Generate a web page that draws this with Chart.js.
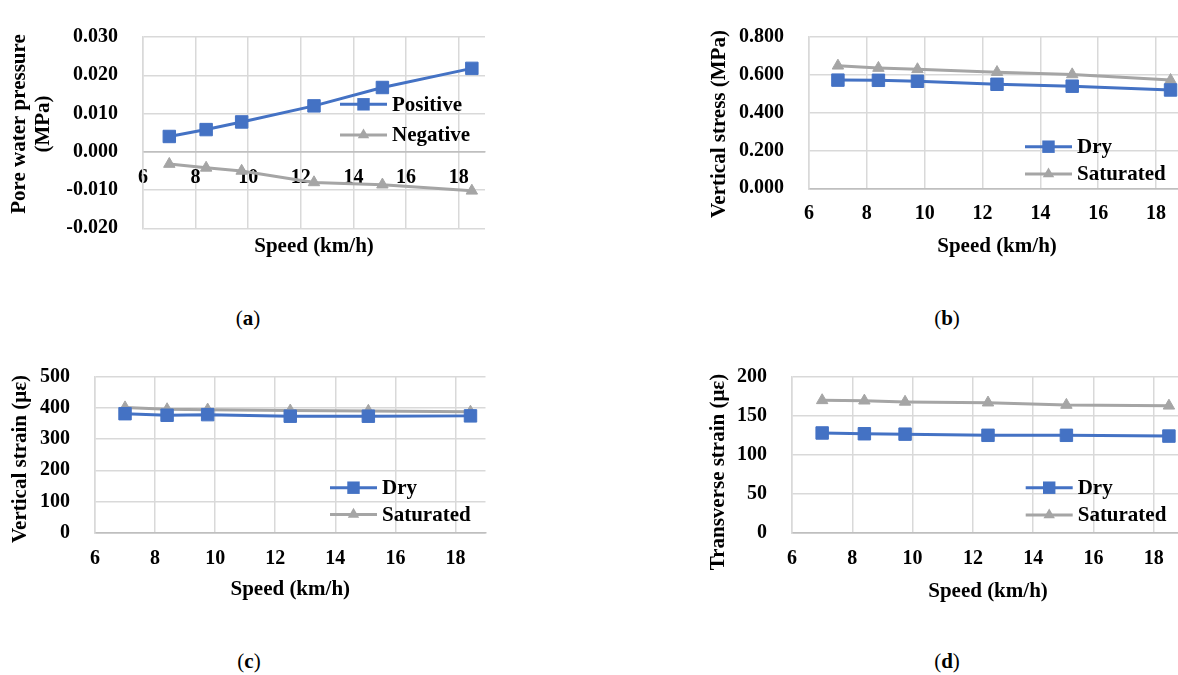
<!DOCTYPE html>
<html>
<head>
<meta charset="utf-8">
<title>Speed effects</title>
<script src="https://cdn.jsdelivr.net/npm/chart.js"></script>
<style>
  html, body { margin: 0; padding: 0; background: #fff; overflow: hidden; }
  body { position: relative; width: 1178px; height: 675px; }
  canvas { position: absolute; }
  .cap { position: absolute; font-family: "Liberation Serif", serif; font-size: 21px; color: #000; transform: translate(-50%, -50%); }
  .cap b { font-weight: bold; }
</style>
</head>
<body>
<canvas id="pore" width="560" height="290" style="left:0;top:0"></canvas>
<canvas id="stress" width="620" height="290" style="left:589px;top:0"></canvas>
<canvas id="vstrain" width="560" height="290" style="left:0;top:340px"></canvas>
<canvas id="tstrain" width="620" height="290" style="left:589px;top:340px"></canvas>
<div class="cap" style="left:248px;top:318px">(<b>a</b>)</div>
<div class="cap" style="left:947px;top:318px">(<b>b</b>)</div>
<div class="cap" style="left:249px;top:661px">(<b>c</b>)</div>
<div class="cap" style="left:947px;top:661px">(<b>d</b>)</div>
<script>
// speeds (km/h) shared by all four panels
const speeds = [7, 8.4, 9.75, 12.5, 15.1, 18.5];
const speedTicks = [6, 8, 10, 12, 14, 16, 18];

const poreTicks = [-0.02, -0.01, 0, 0.01, 0.02, 0.03];
const porePositive = [0.004, 0.0058, 0.0078, 0.012, 0.0168, 0.0218];
const poreNegative = [-0.0032, -0.0042, -0.005, -0.008, -0.0086, -0.0102];

const stressTicks = [0, 0.2, 0.4, 0.6, 0.8];
const stressDry = [0.572, 0.571, 0.566, 0.55, 0.54, 0.52];
const stressSat = [0.648, 0.636, 0.629, 0.614, 0.602, 0.572];

const vStrainTicks = [0, 100, 200, 300, 400, 500];
const vStrainDry = [382, 377, 379, 374, 374, 375];
const vStrainSat = [402, 396, 395, 392, 391, 388];

const tStrainTicks = [0, 50, 100, 150, 200];
const tStrainDry = [128, 127, 126.5, 125, 125, 124];
const tStrainSat = [170, 169.5, 168, 167, 164, 163];

const BLUE = '#4472C4';
const GREY = '#A5A5A5';
const GRID = '#d9d9d9';
const AXIS = '#bfbfbf';
const FONT = '"Liberation Serif", "Times New Roman", serif';

function series(label, data, color, style) {
  return {
    label,
    data: speeds.map((s, i) => ({ x: s, y: data[i] })),
    borderColor: color,
    backgroundColor: color,
    borderWidth: 3,
    pointStyle: style,
    pointRadius: style === 'rect' ? 8.8 : 6.6,
    pointBorderWidth: 1,
    pointBorderColor: color,
    pointBackgroundColor: color,
    tension: 0
  };
}

function marker(ctx, style, x, y, r) {
  ctx.beginPath();
  if (style === 'rect') {
    const h = r * Math.SQRT1_2;
    ctx.rect(x - h, y - h, 2 * h, 2 * h);
  } else {
    for (let k = 0; k < 3; k++) {
      const a = k * 2 * Math.PI / 3;
      const px = x + Math.sin(a) * r, py = y - Math.cos(a) * r;
      k === 0 ? ctx.moveTo(px, py) : ctx.lineTo(px, py);
    }
    ctx.closePath();
  }
  ctx.fill();
}

// axis titles and the Excel-style legend (line with marker) drawn over the plot
const panelText = {
  id: 'panelText',
  afterDraw(chart, args, o) {
    const { ctx, chartArea: a } = chart;
    ctx.save();
    ctx.fillStyle = '#000';
    ctx.font = `bold 21px ${FONT}`;
    ctx.textAlign = 'center';
    ctx.textBaseline = 'middle';
    ctx.fillText(o.xTitle, (a.left + a.right) / 2, o.xTitleY);
    o.yTitle.forEach((line, i) => {
      ctx.save();
      ctx.translate(o.yTitleX + i * 24, o.yTitleY);
      ctx.rotate(-Math.PI / 2);
      ctx.fillText(line, 0, 0);
      ctx.restore();
    });
    ctx.textAlign = 'left';
    chart.data.datasets.forEach((ds, i) => {
      const y = o.legendY + i * o.legendGap;
      ctx.strokeStyle = ds.borderColor;
      ctx.lineWidth = ds.borderWidth;
      ctx.beginPath();
      ctx.moveTo(o.legendX, y);
      ctx.lineTo(o.legendX + 47, y);
      ctx.stroke();
      ctx.fillStyle = ds.borderColor;
      marker(ctx, ds.pointStyle, o.legendX + 23.5, y, ds.pointRadius);
      ctx.fillStyle = '#000';
      ctx.fillText(ds.label, o.legendX + 52, y + 1);
    });
    ctx.restore();
  }
};

function makePanel(id, p) {
  return new Chart(document.getElementById(id), {
    type: 'line',
    data: { datasets: p.datasets },
    plugins: [panelText],
    options: {
      responsive: false,
      animation: false,
      events: [],
      layout: { padding: p.padding },
      scales: {
        x: {
          type: 'linear',
          min: 6,
          max: 19,
          position: p.xPosition || 'bottom',
          afterBuildTicks: s => { s.ticks = speedTicks.map(v => ({ value: v })); },
          // tick labels are clipped to the axis box, so it needs real height at the bottom
          afterFit: s => { s.height = p.xHeight; },
          grid: { color: GRID, lineWidth: 1.5, drawTicks: false },
          border: { display: true, color: AXIS, width: 1.5 },
          ticks: {
            padding: 14,
            maxRotation: 0,
            autoSkip: false,
            color: '#000',
            font: { family: FONT, size: 20, weight: 'bold' }
          }
        },
        y: {
          type: 'linear',
          min: p.yTicks[0],
          max: p.yTicks[p.yTicks.length - 1],
          afterBuildTicks: s => { s.ticks = p.yTicks.map(v => ({ value: v })); },
          afterFit: s => { s.width = p.yWidth; },
          grid: {
            color: c => (c.tick && c.tick.value === 0 ? AXIS : GRID),
            lineWidth: 1.5,
            drawTicks: false
          },
          border: { display: true, color: GRID, width: 1.5 },
          ticks: {
            padding: 25,
            color: '#000',
            font: { family: FONT, size: 20, weight: 'bold' },
            callback: v => v.toFixed(p.decimals)
          }
        }
      },
      plugins: {
        legend: { display: false },
        tooltip: { enabled: false },
        panelText: p.text
      }
    }
  });
}

makePanel('pore', {
  datasets: [
    series('Positive', porePositive, BLUE, 'rect'),
    series('Negative', poreNegative, GREY, 'triangle')
  ],
  yTicks: poreTicks,
  decimals: 3,
  yWidth: 143,
  xHeight: 0,
  xPosition: { y: 0 },
  padding: { left: 0, top: 20, right: 75, bottom: 61.7 },
  text: {
    xTitle: 'Speed (km/h)', xTitleY: 247,
    yTitle: ['Pore water pressure', '(MPa)'], yTitleX: 20, yTitleY: 124,
    legendX: 340, legendY: 104.3, legendGap: 30.7
  }
});

makePanel('stress', {
  datasets: [
    series('Dry', stressDry, BLUE, 'rect'),
    series('Saturated', stressSat, GREY, 'triangle')
  ],
  yTicks: stressTicks,
  decimals: 3,
  yWidth: 220,
  xHeight: 60,
  padding: { left: 0, top: 20, right: 24, bottom: 41.7 },
  text: {
    xTitle: 'Speed (km/h)', xTitleY: 246.5,
    yTitle: ['Vertical stress (MPa)'], yTitleX: 131, yTitleY: 124,
    legendX: 436, legendY: 146.7, legendGap: 27.3
  }
});

makePanel('vstrain', {
  datasets: [
    series('Dry', vStrainDry, BLUE, 'rect'),
    series('Saturated', vStrainSat, GREY, 'triangle')
  ],
  yTicks: vStrainTicks,
  decimals: 0,
  yWidth: 95,
  xHeight: 60,
  padding: { left: 0, top: 24, right: 74.5, bottom: 37.5 },
  text: {
    xTitle: 'Speed (km/h)', xTitleY: 250,
    yTitle: ['Vertical strain (με)'], yTitleX: 21, yTitleY: 119,
    legendX: 330, legendY: 147.7, legendGap: 26.7
  }
});

makePanel('tstrain', {
  datasets: [
    series('Dry', tStrainDry, BLUE, 'rect'),
    series('Saturated', tStrainSat, GREY, 'triangle')
  ],
  yTicks: tStrainTicks,
  decimals: 0,
  yWidth: 203,
  xHeight: 60,
  padding: { left: 0, top: 24, right: 25, bottom: 37.5 },
  text: {
    xTitle: 'Speed (km/h)', xTitleY: 252,
    yTitle: ['Transverse strain (με)'], yTitleX: 130, yTitleY: 132,
    legendX: 436.7, legendY: 147.7, legendGap: 27.3
  }
});
</script>
</body>
</html>
